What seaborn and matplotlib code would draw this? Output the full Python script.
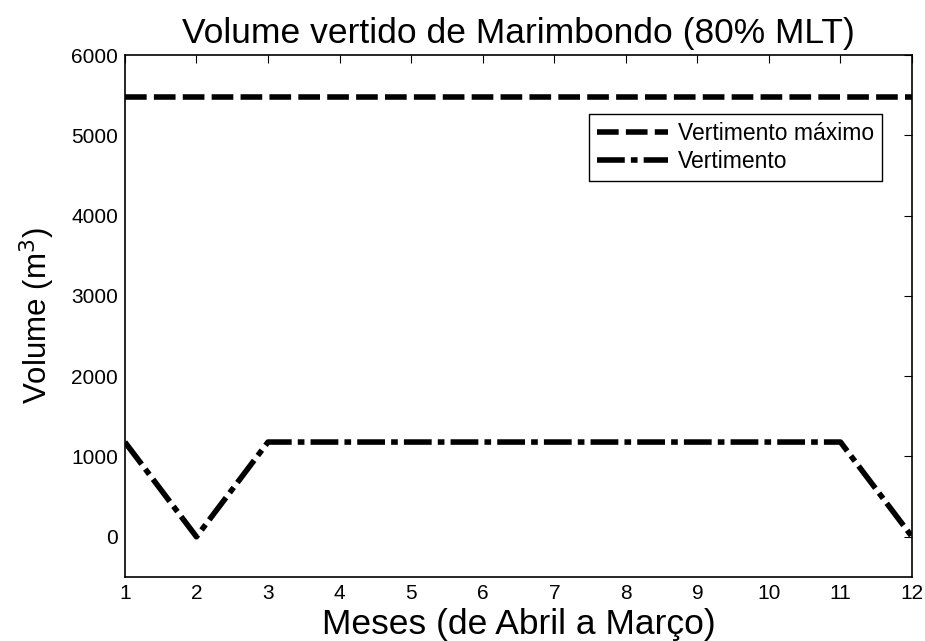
import matplotlib
matplotlib.use("Agg")
import matplotlib.pyplot as plt
import seaborn as sns
import pandas as pd

# Monthly series (April to March)
months = list(range(1, 13))
vertimento_maximo = [5480] * 12
vertimento = [1180, 0, 1180, 1180, 1180, 1180, 1180, 1180, 1180, 1180, 1180, 0]
series_labels = ["Vertimento máximo", "Vertimento"]
y_ticks = [0, 1000, 2000, 3000, 4000, 5000, 6000]

sns.set_style("white")
plt.rcParams["font.family"] = ["Liberation Sans", "DejaVu Sans"]
plt.rcParams.update({
    "text.color": "black",
    "axes.labelcolor": "black",
    "xtick.color": "black",
    "ytick.color": "black",
})

df = pd.DataFrame({
    "mes": months * 2,
    "volume": vertimento_maximo + vertimento,
    "serie": [series_labels[0]] * 12 + [series_labels[1]] * 12,
})

fig = plt.figure(figsize=(9.25, 6.41), dpi=100)
ax = fig.add_axes([0.135, 0.100, 0.851, 0.814])

sns.lineplot(
    data=df, x="mes", y="volume", hue="serie", style="serie",
    palette=["black", "black"],
    dashes={series_labels[0]: (3.9, 1.3), series_labels[1]: (5.0, 1.1, 1.2, 1.1)},
    linewidth=4.0, ax=ax, legend=True,
)

ax.set_xlim(1, 12)
ax.set_ylim(-500, 6000)
ax.set_xticks(months)
ax.set_yticks(y_ticks)
ax.tick_params(axis="both", direction="in", length=6, width=0.8,
               top=True, right=True, labelsize=15, pad=5)
for s in ax.spines.values():
    s.set_color("black")
    s.set_linewidth(1.2)

ax.set_title("Volume vertido de Marimbondo (80% MLT)", fontsize=25.5, pad=9)
ax.set_xlabel("Meses (de Abril a Março)", fontsize=25.5, labelpad=4)
ax.set_ylabel("Volume (m$^3$)", fontsize=22.5, labelpad=10)

leg = ax.legend(loc="upper right", bbox_to_anchor=(0.962, 0.887),
                borderaxespad=0, fontsize=16.5, frameon=True, fancybox=False,
                handlelength=3.1, borderpad=0.35, labelspacing=0.2,
                handletextpad=0.45)
leg.get_frame().set_edgecolor("black")
leg.get_frame().set_linewidth(1.0)
leg.get_frame().set_alpha(1)
for line in leg.get_lines():
    line.set_linewidth(4.0)

fig.savefig("out.png", dpi=100)
